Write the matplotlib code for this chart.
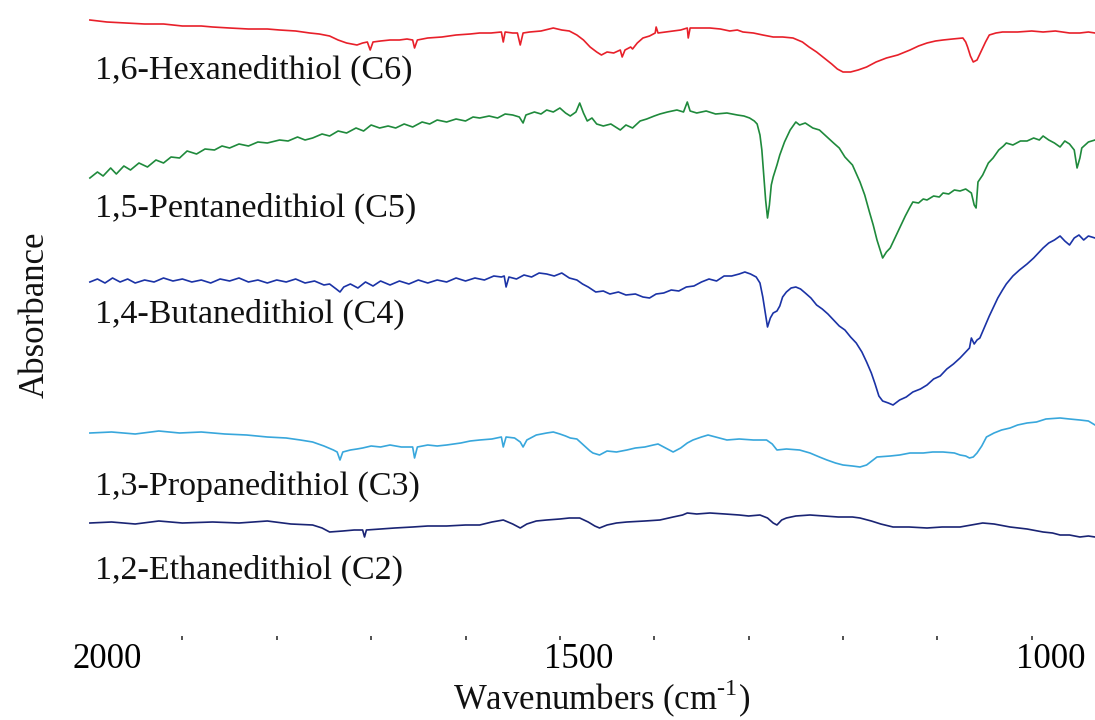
import matplotlib
matplotlib.use("Agg")
import matplotlib.pyplot as plt
from matplotlib.transforms import ScaledTranslation

plt.rcParams['font.family'] = ['Liberation Serif', 'DejaVu Serif']
plt.rcParams['mathtext.fontset'] = 'custom'
plt.rcParams['mathtext.rm'] = 'Liberation Serif'

# ---- data: wavenumber (cm-1) and offset absorbance (arbitrary units) ----
c6_wn = [1998, 1980, 1960, 1940, 1920, 1900, 1880, 1868, 1850, 1830, 1810, 1797, 1780, 1765, 1755, 1744,
         1735, 1726, 1715, 1709, 1704, 1701, 1698, 1690, 1680, 1670, 1662, 1656, 1654, 1651, 1640, 1625,
         1610, 1595, 1585, 1573, 1562, 1560, 1558, 1550, 1545, 1542, 1539, 1532, 1520, 1507, 1498, 1490,
         1482, 1475, 1468, 1461, 1456, 1450, 1443, 1436, 1434, 1431, 1425, 1423, 1418, 1412, 1405, 1399,
         1398, 1396, 1388, 1380, 1372, 1365, 1364, 1362, 1350, 1341, 1330, 1320, 1312, 1306, 1295, 1285,
         1274, 1264, 1253, 1243, 1236, 1228, 1220, 1212, 1206, 1200, 1192, 1184, 1175, 1165, 1154, 1142,
         1129, 1120, 1111, 1102, 1094, 1084, 1073, 1070, 1068, 1065, 1062, 1058, 1054, 1049, 1045, 1038,
         1031, 1015, 1000, 988, 975, 960, 949, 940, 933]
c6_ab = [616, 614, 613, 612, 612, 610, 610, 609, 608, 607, 607, 606, 605, 603, 602, 600,
         596, 593, 591, 593, 594, 586, 594, 595, 596, 596, 597, 596, 588, 596, 598, 599,
         601, 602, 603, 603, 604, 594, 604, 603, 603, 591, 603, 604, 605, 608, 606, 605,
         601, 596, 589, 584, 581, 584, 583, 586, 579, 586, 589, 587, 593, 598, 600, 603,
         609, 603, 604, 605, 606, 608, 598, 608, 608, 608, 607, 605, 606, 604, 603, 601,
         599, 599, 598, 594, 589, 584, 578, 572, 567, 564, 564, 566, 569, 574, 578, 581,
         586, 590, 593, 595, 596, 597, 598, 594, 589, 580, 574, 576, 584, 594, 601, 603,
         604, 604, 605, 604, 605, 603, 603, 604, 603]

c5_wn = [1998, 1990, 1984, 1976, 1970, 1962, 1955, 1946, 1937, 1928, 1920, 1912, 1903, 1895, 1885, 1876,
         1866, 1858, 1850, 1840, 1830, 1820, 1810, 1797, 1788, 1778, 1770, 1762, 1752, 1744, 1735, 1726,
         1716, 1708, 1700, 1691, 1682, 1674, 1665, 1656, 1646, 1638, 1630, 1620, 1610, 1600, 1592, 1585,
         1575, 1566, 1558, 1550, 1543, 1539, 1536, 1527, 1520, 1514, 1507, 1500, 1494, 1489, 1483, 1479,
         1475, 1471, 1466, 1461, 1454, 1446, 1436, 1430, 1423, 1415, 1408, 1400, 1394, 1386, 1376, 1369,
         1365, 1362, 1355, 1345, 1335, 1323, 1312, 1305, 1299, 1294, 1291, 1288, 1286, 1284, 1282, 1280,
         1278, 1276, 1274, 1270, 1267, 1262, 1256, 1250, 1246, 1240, 1232, 1225, 1217, 1210, 1204, 1198,
         1190, 1182, 1177, 1172, 1168, 1164, 1160, 1158, 1154, 1150, 1145, 1140, 1134, 1129, 1126, 1120,
         1115, 1111, 1104, 1098, 1094, 1088, 1082, 1076, 1070, 1064, 1061, 1059, 1057, 1052, 1046, 1041,
         1035, 1030, 1027, 1020, 1012, 1005, 998, 992, 988, 982, 976, 970, 965, 960, 955, 952,
         949, 947, 940, 933]
c5_ab = [458, 464, 460, 468, 462, 470, 466, 473, 469, 476, 473, 479, 478, 485, 482, 487,
         486, 490, 488, 492, 490, 494, 493, 496, 495, 499, 496, 498, 502, 500, 505, 503,
         508, 505, 511, 508, 510, 508, 512, 509, 514, 512, 516, 514, 517, 515, 519, 518,
         520, 518, 522, 521, 519, 513, 521, 524, 522, 526, 524, 528, 523, 520, 524, 533,
         523, 515, 518, 512, 510, 512, 506, 511, 508, 515, 517, 520, 522, 524, 526, 524,
         534, 525, 523, 525, 522, 523, 521, 520, 518, 515, 512, 501, 486, 461, 436, 418,
         431, 451, 459, 471, 481, 494, 506, 514, 511, 513, 508, 506, 499, 493, 488, 479,
         471, 454, 441, 424, 411, 396, 384, 378, 384, 388, 398, 408, 420, 429, 434, 433,
         437, 436, 440, 439, 443, 442, 446, 445, 447, 443, 431, 428, 454, 461, 473, 478,
         486, 490, 493, 491, 495, 495, 498, 496, 500, 496, 493, 489, 495, 492, 486, 468,
         478, 488, 494, 496]

c4_wn = [1998, 1990, 1982, 1974, 1966, 1958, 1950, 1940, 1930, 1920, 1910, 1900, 1890, 1880, 1870, 1860,
         1850, 1840, 1830, 1820, 1810, 1800, 1790, 1780, 1770, 1760, 1750, 1744, 1737, 1733, 1729, 1722,
         1714, 1706, 1698, 1690, 1680, 1670, 1660, 1650, 1640, 1630, 1620, 1610, 1600, 1590, 1580, 1570,
         1562, 1559, 1557, 1554, 1546, 1538, 1530, 1522, 1514, 1506, 1498, 1490, 1482, 1476, 1470, 1462,
         1454, 1447, 1438, 1430, 1420, 1412, 1405, 1398, 1390, 1382, 1374, 1366, 1358, 1350, 1342, 1334,
         1326, 1318, 1310, 1304, 1298, 1292, 1288, 1285, 1282, 1280, 1277, 1274, 1270, 1267, 1264, 1260,
         1255, 1250, 1245, 1240, 1234, 1228, 1222, 1216, 1210, 1204, 1198, 1192, 1186, 1180, 1175, 1170,
         1166, 1162, 1158, 1152, 1147, 1140, 1133, 1126, 1118, 1111, 1104, 1097, 1090, 1083, 1076, 1070,
         1066, 1064, 1061, 1058, 1055, 1050, 1045, 1041, 1036, 1031, 1027, 1020, 1013, 1005, 998, 992,
         988, 982, 976, 970, 965, 960, 955, 950, 945, 940, 933]
c4_ab = [354, 357, 353, 358, 354, 357, 353, 356, 354, 358, 355, 357, 354, 356, 353, 357,
         355, 358, 354, 356, 353, 356, 354, 357, 353, 355, 351, 352, 347, 344, 349, 352,
         348, 354, 350, 355, 351, 355, 352, 356, 353, 356, 354, 358, 355, 358, 356, 360,
         359, 360, 349, 359, 357, 361, 359, 363, 362, 360, 363, 358, 356, 352, 349, 344,
         345, 342, 344, 341, 342, 339, 338, 342, 343, 346, 345, 349, 350, 354, 357, 355,
         360, 360, 362, 364, 362, 359, 353, 339, 321, 309, 318, 323, 325, 330, 339, 344,
         348, 349, 347, 343, 338, 331, 327, 322, 316, 310, 306, 299, 293, 284, 274, 263,
         252, 240, 235, 233, 231, 236, 239, 244, 247, 251, 257, 260, 267, 272, 278, 284,
         288, 298, 292, 296, 298, 309, 320, 328, 338, 346, 352, 360, 366, 372, 378, 384,
         388, 393, 396, 400, 395, 391, 398, 401, 396, 400, 398]

c3_wn = [1998, 1975, 1950, 1925, 1903, 1880, 1855, 1832, 1810, 1790, 1775, 1762, 1750, 1740, 1736, 1733,
         1730, 1722, 1715, 1709, 1700, 1690, 1680, 1668, 1656, 1654, 1651, 1640, 1630, 1620, 1605, 1595,
         1585, 1572, 1562, 1560, 1557, 1548, 1542, 1539, 1535, 1525, 1514, 1507, 1500, 1494, 1489, 1482,
         1475, 1468, 1465, 1458, 1450, 1440, 1429, 1420, 1410, 1401, 1396, 1390, 1380, 1372, 1365, 1359,
         1350, 1343, 1335, 1323, 1310, 1295, 1281, 1275, 1270, 1260, 1246, 1235, 1225, 1217, 1208, 1200,
         1190, 1182, 1175, 1164, 1150, 1140, 1129, 1115, 1105, 1094, 1082, 1076, 1070, 1066, 1062, 1058,
         1053, 1048, 1040, 1032, 1023, 1015, 1005, 995, 985, 970, 960, 949, 940, 933]
c3_ab = [203, 204, 202, 205, 203, 204, 202, 201, 199, 198, 196, 194, 190, 186, 184, 176,
         184, 186, 187, 188, 190, 189, 191, 189, 189, 178, 189, 191, 190, 191, 193, 195,
         196, 197, 199, 189, 199, 198, 194, 189, 196, 201, 203, 204, 202, 200, 198, 197,
         191, 185, 183, 181, 185, 184, 186, 188, 189, 191, 192, 189, 184, 188, 193, 196,
         199, 201, 199, 196, 197, 196, 196, 192, 186, 187, 186, 183, 179, 176, 173, 171,
         170, 169, 171, 179, 180, 181, 183, 183, 184, 184, 183, 181, 180, 178, 179, 183,
         190, 199, 203, 206, 208, 211, 213, 214, 217, 218, 217, 216, 215, 211]

c2_wn = [1998, 1975, 1950, 1925, 1900, 1868, 1840, 1810, 1785, 1762, 1752, 1744, 1730, 1718, 1709, 1707,
         1705, 1690, 1675, 1656, 1640, 1620, 1600, 1585, 1572, 1560, 1550, 1542, 1535, 1525, 1514, 1500,
         1490, 1479, 1470, 1463, 1458, 1450, 1440, 1429, 1410, 1394, 1380, 1370, 1365, 1355, 1341, 1325,
         1310, 1300, 1288, 1280, 1274, 1270, 1265, 1260, 1250, 1235, 1220, 1205, 1190, 1182, 1170, 1160,
         1147, 1130, 1111, 1095, 1076, 1064, 1052, 1040, 1023, 1005, 988, 978, 970, 960, 949, 940, 933]
c2_ab = [113, 114, 112, 115, 113, 114, 113, 115, 112, 111, 108, 104, 105, 106, 106, 99,
         106, 107, 108, 109, 110, 110, 111, 111, 114, 116, 112, 108, 112, 115, 116, 117,
         118, 118, 114, 110, 108, 111, 113, 114, 115, 116, 119, 121, 123, 122, 123, 122,
         121, 120, 121, 118, 113, 111, 116, 118, 120, 121, 120, 119, 119, 118, 115, 112,
         109, 109, 108, 109, 109, 111, 113, 112, 109, 107, 104, 103, 101, 101, 99, 100, 99]

names = ["1,6-Hexanedithiol (C6)", "1,5-Pentanedithiol (C5)", "1,4-Butanedithiol (C4)",
         "1,3-Propanedithiol (C3)", "1,2-Ethanedithiol (C2)"]
label_y = [566, 428, 322, 150, 66]
colors = ["#e8202a", "#1f8a3c", "#1b33a6", "#38a7dc", "#1a2474"]
series = [(c6_wn, c6_ab), (c5_wn, c5_ab), (c4_wn, c4_ab), (c3_wn, c3_ab), (c2_wn, c2_ab)]

x_ticks = [2000, 1500, 1000]
x_minor = [1900, 1800, 1700, 1600, 1400, 1300, 1200, 1100]

fig = plt.figure(figsize=(10.95, 7.2), dpi=100)
ax = fig.add_axes([88/1095, 84/720, 1 - 88/1095, 636/720])

for (wn, ab), c in zip(series, colors):
    ax.plot(wn, ab, color=c, lw=1.2)

for name, yy in zip(names, label_y):
    ax.text(1993, yy, name, fontsize=24.5, va='center', ha='left', color='#111111')

ax.set_xlim(2000, 933)
ax.set_ylim(0, 636)
for s in ax.spines.values():
    s.set_visible(False)
ax.set_yticks([])
ax.set_xticks(x_ticks)
ax.set_xticks(x_minor, minor=True)
ax.tick_params(axis='x', which='both', direction='out', length=3, width=1.2, color='#333333',
               labelsize=25, pad=2)
ax.xaxis.get_major_ticks()[0].tick1line.set_visible(False)
off = ScaledTranslation(19/100, 0, fig.dpi_scale_trans)
for lab in ax.get_xticklabels():
    lab.set_transform(lab.get_transform() + off)

fig.text(602/1095, 1 - 699/720, r'Wavenumbers (cm$^{\mathregular{\text{-}1}}$)', fontsize=25,
         ha='center', va='center', color='#111111')
fig.text(35/1095, 1 - 315/720, 'Absorbance', fontsize=25, rotation=90,
         ha='center', va='center', color='#111111')

fig.savefig("out.png", dpi=100)
